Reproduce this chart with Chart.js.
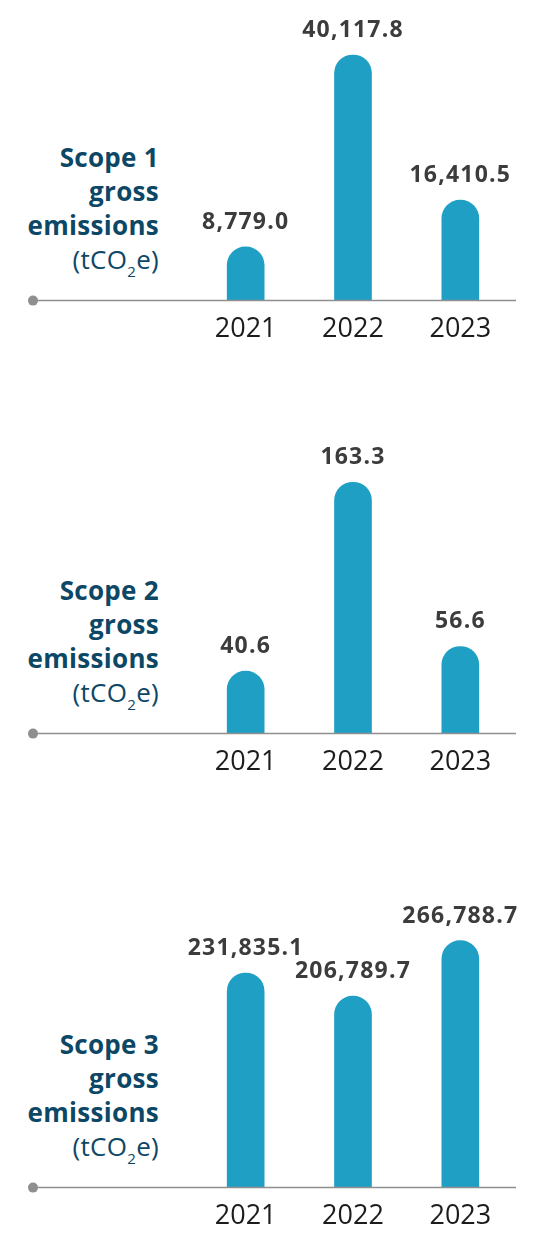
<!DOCTYPE html>
<html>
<head>
<meta charset="utf-8">
<script src="https://cdn.jsdelivr.net/npm/chart.js@4.4.1/dist/chart.umd.min.js"></script>
<style>
  body { margin: 0; background: #fff; width: 551px; height: 1241px; overflow: hidden; font-family: "Open Sans", sans-serif; }
  .panel { position: absolute; left: 0; width: 551px; height: 360px; }
  .panel canvas { position: absolute; left: 0; top: 0; }
  .title {
    position: absolute; left: 0; width: 159px; top: 140px;
    text-align: right; color: #0d4766; font-size: 26px; line-height: 34px;
    letter-spacing: 0.3px;
  }
  .title b { font-weight: 700; }
  .title .unit { font-weight: 400; }
  .title sub { font-size: 15px; position: relative; vertical-align: baseline; top: 8px; }
</style>
</head>
<body>
<div class="panel" style="top:0px">
  <div class="title"><b>Scope 1<br>gross<br>emissions</b><br><span class="unit">(tCO<sub>2</sub>e)</span></div>
  <canvas id="scope1" width="551" height="360"></canvas>
</div>
<div class="panel" style="top:433px">
  <div class="title"><b>Scope 2<br>gross<br>emissions</b><br><span class="unit">(tCO<sub>2</sub>e)</span></div>
  <canvas id="scope2" width="551" height="360"></canvas>
</div>
<div class="panel" style="top:887px">
  <div class="title"><b>Scope 3<br>gross<br>emissions</b><br><span class="unit">(tCO<sub>2</sub>e)</span></div>
  <canvas id="scope3" width="551" height="360"></canvas>
</div>

<script>
const years = ['2021', '2022', '2023'];
const scope1Values = [8779.0, 40117.8, 16410.5];
const scope2Values = [40.6, 163.3, 56.6];
const scope3Values = [231835.1, 206789.7, 266788.7];
const scopeMax = [45500, 181, 301000];

const BAR_COLOR = '#209fc5';
const AXIS_COLOR = '#8f8f8f';

const fmt = v => v.toLocaleString('en-US', { minimumFractionDigits: 1, maximumFractionDigits: 1 });

// grey baseline running out to a dot on the left
const baselinePlugin = {
    id: 'baseline',
    afterDatasetsDraw(chart) {
        const { ctx, chartArea, scales } = chart;
        const y = scales.y.getPixelForValue(0);
        ctx.save();
        ctx.strokeStyle = AXIS_COLOR;
        ctx.lineWidth = 1.5;
        ctx.beginPath();
        ctx.moveTo(33, y);
        ctx.lineTo(chartArea.right + 2, y);
        ctx.stroke();
        ctx.fillStyle = AXIS_COLOR;
        ctx.beginPath();
        ctx.arc(33, y, 5, 0, Math.PI * 2);
        ctx.fill();
        ctx.restore();
    }
};

// value printed above each bar
const valueLabels = {
    id: 'valueLabels',
    afterDatasetsDraw(chart) {
        const { ctx } = chart;
        const meta = chart.getDatasetMeta(0);
        const data = chart.data.datasets[0].data;
        ctx.save();
        ctx.font = '700 23px "Open Sans"';
        ctx.letterSpacing = '1.2px';
        ctx.fillStyle = '#3c3c3c';
        ctx.textAlign = 'center';
        ctx.textBaseline = 'alphabetic';
        meta.data.forEach((bar, i) => {
            ctx.fillText(fmt(data[i]), bar.x, bar.y - 18);
        });
        ctx.restore();
    }
};

function drawScope(id, values, max) {
    const ctx = document.getElementById(id).getContext('2d');
    return new Chart(ctx, {
        type: 'bar',
        data: {
            labels: years,
            datasets: [{
                data: values,
                backgroundColor: BAR_COLOR,
                barThickness: 37,
                borderRadius: 18.5,
                borderSkipped: 'start'
            }]
        },
        options: {
            responsive: false,
            animation: false,
            devicePixelRatio: 1,
            layout: { padding: { left: 192, right: 37, top: 22, bottom: 1 } },
            plugins: { legend: { display: false }, tooltip: { enabled: false } },
            scales: {
                x: {
                    grid: { display: false, drawTicks: false },
                    border: { display: false },
                    ticks: {
                        color: '#1c1c1c',
                        padding: 13,
                        font: { family: '"Open Sans"', size: 27, weight: '400' }
                    }
                },
                y: { display: false, min: 0, max: max }
            }
        },
        plugins: [baselinePlugin, valueLabels]
    });
}

drawScope('scope1', scope1Values, scopeMax[0]);
drawScope('scope2', scope2Values, scopeMax[1]);
drawScope('scope3', scope3Values, scopeMax[2]);
</script>
</body>
</html>
